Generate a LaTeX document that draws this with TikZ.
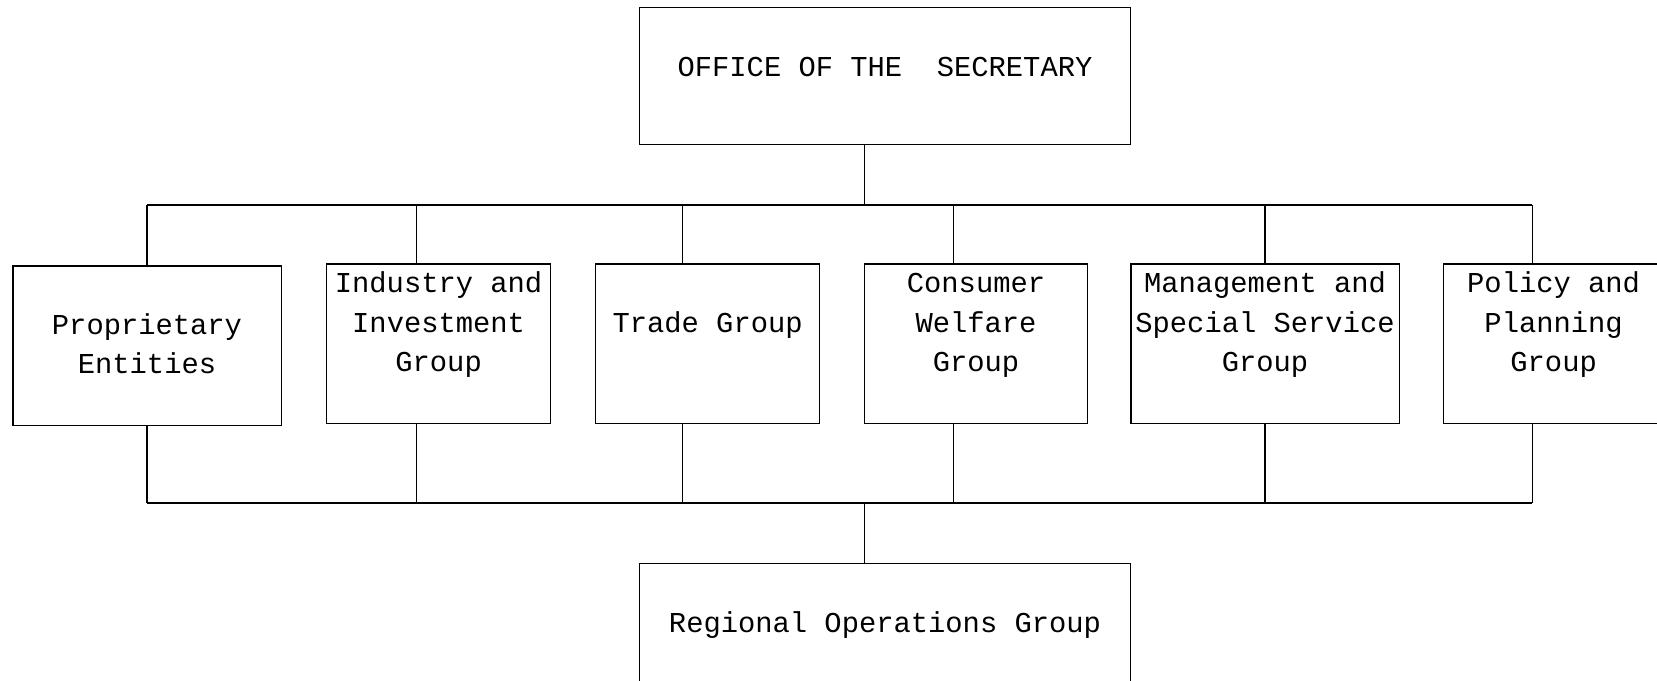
\documentclass[tikz,border=0pt]{standalone}
\usepackage{fontspec}
\newfontfamily\orgfont{Liberation Mono}
\usetikzlibrary{positioning}

\begin{document}
\begin{tikzpicture}[
    x=1pt, y=1pt,
    line width=0.7pt,
    unit/.style={draw, inner sep=0pt, align=center,
      font={\orgfont\fontsize{14.4}{19.8}\selectfont}},
    wide/.style={unit, minimum width=134.2pt, minimum height=79.8pt},
    narrow/.style={unit, minimum width=112pt, minimum height=79.8pt},
    head/.style={unit, minimum width=245.7pt, minimum height=68.7pt,
      text height=10pt, text depth=9.5pt}
  ]
  \useasboundingbox[fill=white] (0,0) rectangle (828.5,340);

  % Nodes
  \node[head] (sec) at (442.5,302) {OFFICE OF THE~ SECRETARY};
  \node[wide] (prop) at (73.5,167) {\strut\\Proprietary\\Entities\\\strut};
  \node[narrow] (ind) at (219.3,168) {\strut Industry and\\Investment\\Group\\\strut};
  \node[narrow] (trade) at (353.8,168) {\strut\\Trade Group\\\strut\\\strut};
  \node[narrow, minimum width=111.5pt] (cons) at (488,168) {\strut Consumer\\Welfare\\Group\\\strut};
  \node[wide] (mgmt) at (632.5,168) {\strut Management and\\Special Service\\Group\\\strut};
  \node[narrow, minimum width=110pt] (pol) at (776.8,168) {\strut Policy and\\Planning\\Group\\\strut};
  \node[head] (reg) at (442.5,24) {Regional Operations Group};

  % Bus coordinates
  \coordinate (tap) at (432.2,237.5);
  \coordinate (drop) at (432.2,88.5);

  % Connectors
  \draw (tap |- sec.south) -- (tap);
  \foreach \n/\x in {prop/73.4, ind/208.2, trade/341.3, cons/476.6, mgmt/632.5, pol/766.2} {
    \coordinate (\n-in) at (\x,237.5);
    \coordinate (\n-out) at (\x,88.5);
    \draw (\n-in) -- (\n-in |- \n.north);
    \draw (\n-out |- \n.south) -- (\n-out);
  }
  \draw (prop-in) -- (pol-in);
  \draw (prop-out) -- (pol-out);
  \draw (drop) -- (drop |- reg.north);
\end{tikzpicture}
\end{document}
